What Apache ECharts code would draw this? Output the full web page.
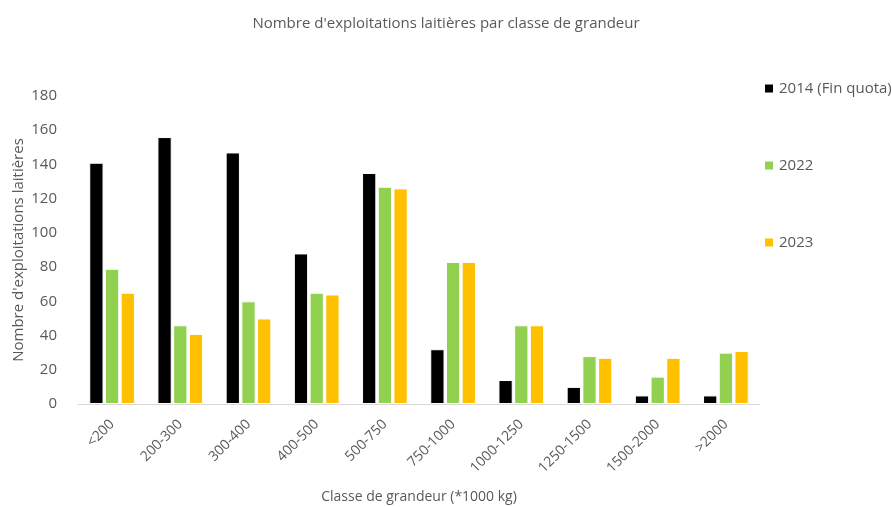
<!DOCTYPE html>
<html>
<head>
<meta charset="utf-8">
<script src="https://cdn.jsdelivr.net/npm/echarts@6/dist/echarts.min.js"></script>
<style>
  body { margin: 0; background: #fff; }
  #chart { width: 892px; height: 507px; }
</style>
</head>
<body>
<div id="chart"></div>
<script>
// classes de grandeur (*1000 kg)
const categories = ['<200', '200-300', '300-400', '400-500', '500-750', '750-1000', '1000-1250', '1250-1500', '1500-2000', '>2000'];
const seriesNames = ['2014 (Fin quota)', '2022', '2023'];
const values2014 = [141, 156, 147, 88, 135, 32, 14, 10, 5, 5];
const values2022 = [79, 46, 60, 65, 127, 83, 46, 28, 16, 30];
const values2023 = [65, 41, 50, 64, 126, 83, 46, 27, 27, 31];
const colors = ['#000000', '#92d050', '#ffc000'];

const font = '"Open Sans", sans-serif';
const textColor = '#595959';

const chart = echarts.init(document.getElementById('chart'));

const data = [values2014, values2022, values2023];
const series = seriesNames.map(function (name, i) {
    return {
        name: name,
        type: 'bar',
        data: data[i],
        barGap: '10%',
        barCategoryGap: '33%',
        itemStyle: { color: colors[i], borderColor: '#ffffff', borderWidth: 1 }
    };
});

chart.setOption({
    animation: false,
    color: colors,
    title: {
        text: "Nombre d'exploitations laitières par classe de grandeur",
        left: 'center',
        top: 11,
        textStyle: { fontFamily: font, fontSize: 15, fontWeight: 'normal', color: textColor }
    },
    legend: {
        orient: 'vertical',
        left: 758,
        top: 76,
        itemGap: 62,
        itemWidth: 10,
        itemHeight: 10,
        icon: 'rect',
        textStyle: { fontFamily: font, fontSize: 15, color: textColor },
        data: seriesNames
    },
    grid: { left: 78, right: 132, top: 96, bottom: 103, outerBoundsMode: 'none' },
    xAxis: {
        type: 'category',
        data: categories,
        name: 'Classe de grandeur (*1000 kg)',
        nameLocation: 'middle',
        nameGap: 86,
        nameMoveOverlap: false,
        nameTextStyle: { fontFamily: font, fontSize: 14, color: textColor },
        axisLine: { lineStyle: { color: '#d9d9d9' } },
        axisTick: { show: false },
        axisLabel: { rotate: 45, fontFamily: font, fontSize: 14, color: textColor, margin: 18 }
    },
    yAxis: {
        type: 'value',
        min: 0,
        max: 180,
        interval: 20,
        name: "Nombre d'exploitations laitières",
        nameLocation: 'middle',
        nameGap: 52,
        nameMoveOverlap: false,
        nameTextStyle: { fontFamily: font, fontSize: 15, color: textColor },
        splitLine: { show: false },
        axisLine: { show: false },
        axisLabel: { fontFamily: font, fontSize: 15, color: textColor, margin: 21 }
    },
    series: series
});
</script>
</body>
</html>
